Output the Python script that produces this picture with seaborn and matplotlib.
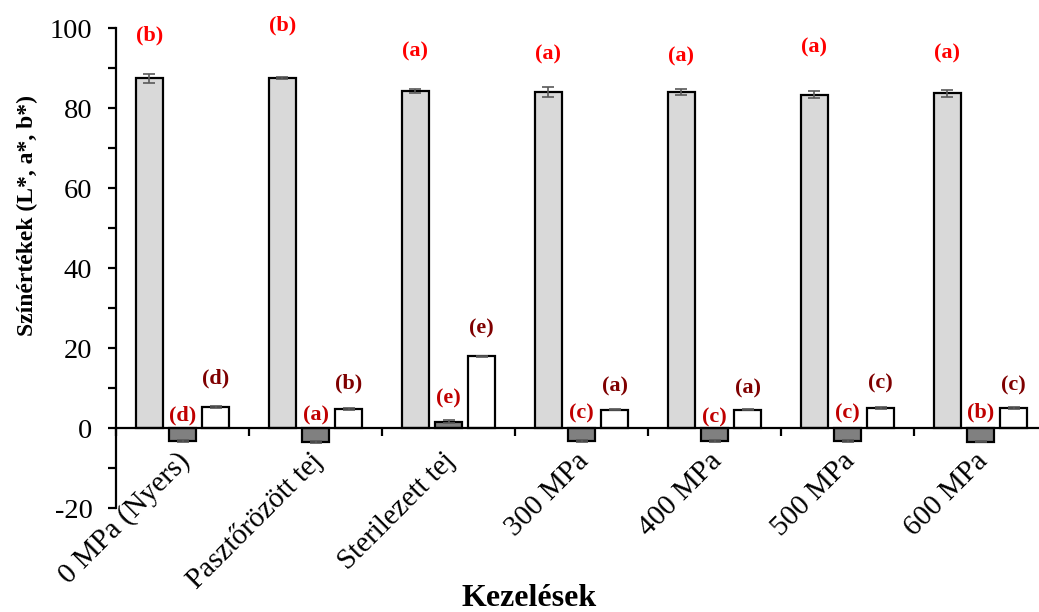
import numpy as np
import pandas as pd
import matplotlib
matplotlib.use("Agg")
import matplotlib.pyplot as plt
import matplotlib.transforms as mtransforms
import seaborn as sns

# Treatments and measured colour coordinates
categories = ["0 MPa (Nyers)", "Pasztőrözött tej", "Sterilezett tej",
              "300 MPa", "400 MPa", "500 MPa", "600 MPa"]
L_values = [87.5, 87.5, 84.2, 84.0, 84.0, 83.4, 83.7]
a_values = [-3.3, -3.5, 1.6, -3.3, -3.3, -3.3, -3.4]
b_values = [5.2, 4.8, 17.9, 4.6, 4.6, 5.0, 5.0]

L_err = [1.1, 0.2, 0.5, 1.2, 0.8, 0.8, 0.9]
a_err = [0.2, 0.2, 0.3, 0.2, 0.2, 0.2, 0.2]
b_err = [0.2, 0.2, 0.2, 0.2, 0.2, 0.2, 0.2]

# Significance letters and their heights
L_letters = ["(b)", "(b)", "(a)", "(a)", "(a)", "(a)", "(a)"]
a_letters = ["(d)", "(a)", "(e)", "(c)", "(c)", "(c)", "(b)"]
b_letters = ["(d)", "(b)", "(e)", "(a)", "(a)", "(c)", "(c)"]
L_letter_y = [98.3, 100.8, 94.1, 93.4, 92.9, 95.3, 93.8]
a_letter_y = [3.1, 3.1, 7.4, 3.6, 2.7, 3.6, 3.9]
b_letter_y = [12.4, 11.1, 24.9, 10.4, 9.8, 11.1, 10.6]

series = ["L*", "a*", "b*"]
bar_colors = ["#D9D9D9", "#808080", "#FFFFFF"]
letter_colors = ["#FF0000", "#C00000", "#7F0000"]

df = pd.DataFrame({
    "Kezelés": categories * 3,
    "Paraméter": np.repeat(series, len(categories)),
    "Érték": L_values + a_values + b_values,
})

plt.rcParams["font.family"] = ["Liberation Serif", "DejaVu Serif"]
plt.rcParams["axes.unicode_minus"] = False

fig = plt.figure(figsize=(10.39, 6.12), dpi=100)
ax = fig.add_axes([116 / 1039, 1 - 508 / 612, (1047 - 116) / 1039, (508 - 28.3) / 612])

sns.barplot(data=df, x="Kezelés", y="Érték", hue="Paraméter",
            hue_order=series, palette=bar_colors, order=categories,
            width=0.75, gap=0.2, errorbar=None, edgecolor="black",
            linewidth=1.6, legend=False, ax=ax, zorder=2)

x = np.arange(len(categories))
offsets = [-0.25, 0.0, 0.25]
for off, vals, errs, letters, ly, col in zip(
        offsets, [L_values, a_values, b_values], [L_err, a_err, b_err],
        [L_letters, a_letters, b_letters],
        [L_letter_y, a_letter_y, b_letter_y], letter_colors):
    ax.errorbar(x + off, vals, yerr=errs, fmt="none", ecolor="#595959",
                elinewidth=1.2, capsize=4, capthick=1.2, zorder=3)
    for xi, t, yy in zip(x + off, letters, ly):
        ax.text(xi, yy, t, color=col, fontsize=16, fontweight="bold",
                ha="center", va="center", zorder=4)

ax.set_xlim(-0.5, len(categories) - 0.5)
ax.set_ylim(-20, 100)

# Axes styling
for s in ["top", "right"]:
    ax.spines[s].set_visible(False)
ax.spines["bottom"].set_position(("data", 0))
ax.spines["bottom"].set_linewidth(1.6)
ax.spines["left"].set_linewidth(1.6)

ax.set_yticks(np.arange(-20, 101, 20))
ax.set_yticks(np.arange(-10, 101, 20), minor=True)
ax.tick_params(axis="y", which="both", direction="out", length=6,
               width=1.6, labelsize=20.5, pad=11)

ax.set_xticks(np.arange(len(categories) + 1) - 0.5)
ax.set_xticklabels([])
ax.tick_params(axis="x", which="major", direction="out", length=6, width=1.6)
ax.set_xticks(x, minor=True)
ax.set_xticklabels(categories, minor=True, rotation=45, ha="right",
                   va="top", rotation_mode="anchor")
ax.tick_params(axis="x", which="minor", length=0, labelsize=21, pad=10)
shift = mtransforms.ScaledTranslation(-6 / 100, -6 / 100, fig.dpi_scale_trans)
for lbl in ax.get_xticklabels(minor=True):
    lbl.set_transform(lbl.get_transform() + shift)

ax.set_xlabel("")
ax.set_ylabel("")

fig.text(27 / 1039, 1 - 215 / 612, "Színértékek (L*, a*, b*)", rotation=90,
         fontsize=17, fontweight="bold", ha="center", va="center")
fig.text(529 / 1039, 1 - 598 / 612, "Kezelések", fontsize=23,
         fontweight="bold", ha="center", va="center")

fig.savefig("out.png", dpi=100)
